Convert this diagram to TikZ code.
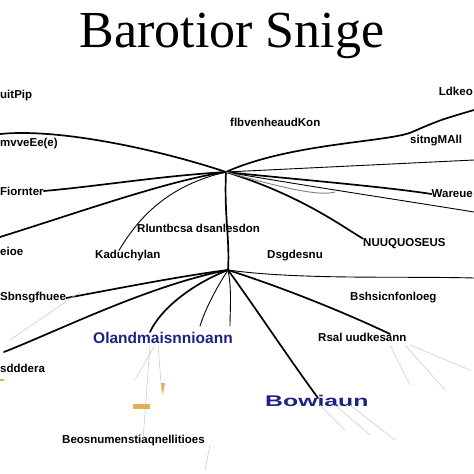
\documentclass[tikz,border=0pt]{standalone}
\usepackage{fontspec}
\setsansfont{Liberation Sans}
\newfontfamily\titlefont{Liberation Serif}
\usepackage{tikz}
\usepackage{xcolor}
\definecolor{navy}{RGB}{30,35,130}
\definecolor{tan}{RGB}{225,175,90}

\tikzset{
  lbl/.style={font=\sffamily\bfseries\fontsize{11.5}{13}\selectfont, inner sep=0pt, anchor=west},
  bluelbl/.style={lbl, text=navy, font=\sffamily\bfseries\fontsize{15.5}{17}\selectfont},
  branch/.style={line width=1.7pt, line cap=round},
  twig/.style={line width=0.9pt, line cap=round},
  faint/.style={gray!40, line width=0.6pt}
}

\begin{document}
\begin{tikzpicture}[x=1pt,y=-1pt]
        \useasboundingbox (0,0) rectangle (474,474);

        % Title
        \node[font=\titlefont\fontsize{52}{58}\selectfont] (title) at (232,36) {Barotior Snige};

        % Hubs
        \coordinate (hubA) at (226,172);
        \coordinate (hubB) at (228,270);

        % Labels
        \node[lbl] (uit) at (0,96) {uitPip};
        \node[lbl, anchor=east] (ldk) at (473,91) {Ldkeo};
        \node[lbl] (flb) at (230,122) {flbvenheaudKon};
        \node[lbl] (mvv) at (0,144) {mvveEe(e)};
        \node[lbl] (sit) at (410,141) {sitngMAll};
        \node[lbl] (fio) at (0,191) {Fiornter};
        \node[lbl, anchor=east] (war) at (473,194) {Wareue};
        \node[lbl] (rlu) at (137,228) {Rluntbcsa dsanlesdon};
        \node[lbl] (eio) at (0,251) {eioe};
        \node[lbl] (kad) at (95,256) {Kaduchylan};
        \node[lbl] (dsg) at (267,256) {Dsgdesnu};
        \node[lbl] (nuu) at (363,244) {NUUQUOSEUS};
        \node[lbl] (sbn) at (0,298) {Sbnsgfhuee};
        \node[lbl] (bsh) at (350,298) {Bshsicnfonloeg};
        \node[bluelbl] (ola) at (93,338) {Olandmaisnnioann};
        \node[lbl] (rsa) at (318,337) {Rsal uudkesann};
        \node[lbl] (sdd) at (0,368) {sdddera};
        \node[bluelbl] (bow) at (265,401) {\scalebox{1.6}[1]{Bowiaun}};
        \node[lbl] (beo) at (62,441) {Beosnumenstiaqnellitioes};

        \coordinate (endA) at (0,134);
        \coordinate (endB) at (474,110);
        \coordinate (endC) at (0,237);
        \coordinate (endD) at (474,160);
        \coordinate (endE) at (474,212);
        \coordinate (endF) at (474,278);
        \coordinate (endG) at (4,352);
        \coordinate (endH) at (150,332);
        \coordinate (endI) at (200,326);
        \coordinate (endJ) at (230,326);
        \coordinate (endK) at (318,398);
        \coordinate (endL) at (390,334);

        % Trunk
        \draw[branch] (hubA) .. controls (224,215) and (230,240) .. (hubB);

        % Upper branches
        \draw[branch] (hubA) .. controls (160,150) and (60,128) .. (endA);
        \draw[branch] (hubA) .. controls (290,143) and (390,142) .. (412,132) .. controls (440,120) .. (endB);
        \draw[branch] (hubA) .. controls (160,176) and (100,186) .. (fio.east);
        \draw[branch] (hubA) .. controls (170,180) and (80,212) .. (endC);
        \draw[twig] (hubA) .. controls (170,185) and (140,215) .. ([xshift=24pt]kad.north west);
        \draw[twig] (hubA) -- (endD);
        \draw[branch] (hubA) .. controls (280,178) and (380,186) .. (war.west);
        \draw[twig] (hubA) .. controls (300,185) and (400,200) .. (endE);
        \draw[branch] (hubA) .. controls (300,195) and (340,225) .. (nuu.north west);
        \draw[twig, gray] (hubA) .. controls (290,190) and (320,196) .. (335,192);

        % Lower branches
        \draw[branch] (hubB) .. controls (180,276) and (110,290) .. (sbn.east);
        \draw[branch] (hubB) .. controls (150,285) and (60,330) .. (endG);
        \draw[branch] (hubB) .. controls (190,285) and (160,310) .. (endH);
        \draw[twig] (hubB) .. controls (215,290) and (205,310) .. (endI);
        \draw[twig] (hubB) .. controls (232,290) and (230,310) .. (endJ);
        \draw[branch] (hubB) .. controls (250,300) and (290,360) .. (endK);
        \draw[twig] (hubB) .. controls (300,280) and (400,276) .. (endF);
        \draw[branch] (hubB) .. controls (290,290) and (350,315) .. (endL);

        % Faint strokes
        \draw[faint] (150,345) -- (143,440);
        \draw[faint] (155,345) -- (135,380);
        \draw[faint] (158,345) -- (162,395);
        \draw[faint] (80,292) -- (10,340);
        \draw[faint] (390,345) -- (410,385);
        \draw[faint] (405,345) -- (445,390);
        \draw[faint] (410,345) -- (470,370);
        \draw[faint] (320,405) -- (345,430);
        \draw[faint] (335,405) -- (370,435);
        \draw[faint] (350,405) -- (395,440);
        \draw[faint] (210,445) -- (205,470);

        % Small marks
        \fill[tan] (133,404) rectangle (150,409);
        \fill[tan] (161,383) -- (165,383) -- (163,394) -- cycle;
        \fill[tan] (0,379) rectangle (4,381);
    \end{tikzpicture}
\end{document}
